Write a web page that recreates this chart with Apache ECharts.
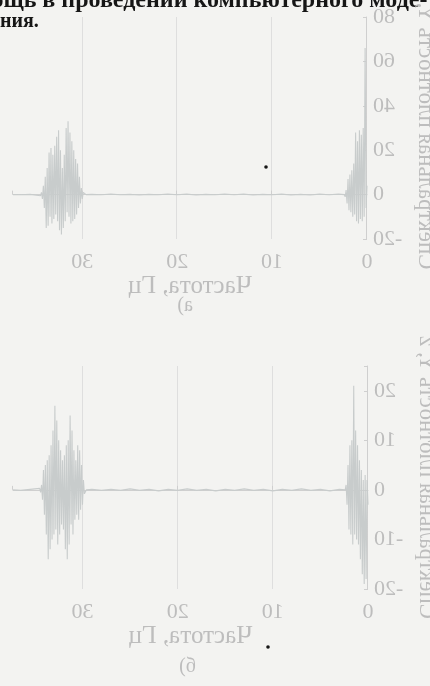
<!DOCTYPE html>
<html><head><meta charset="utf-8">
<script src="https://cdn.jsdelivr.net/npm/echarts@6/dist/echarts.min.js"></script>
<style>html,body{margin:0;padding:0;background:#f3f3f1;overflow:hidden}#c{width:430px;height:686px;transform:scaleX(-1);}</style>
</head><body><div id="c"></div>
<script>
// Frequency grid, Hz
const freqs = [
  0,0.1,0.2,0.3,0.4,0.5,0.6,0.7,0.8,0.9,1,1.1,1.2,1.3,1.4,1.5,1.6,1.7,1.8,1.9,2,2.1,2.2,2.3,2.4,
  3,4,5,6,7,8,9,10,11,12,13,14,15,16,17,18,19,20,21,22,23,24,25,26,27,28,29,
  29.6,29.7,29.8,29.9,30,30.1,30.2,30.3,30.4,30.5,30.6,30.7,30.8,30.9,31,31.1,31.2,31.3,31.4,31.5,31.6,31.7,31.8,31.9,
  32,32.1,32.2,32.3,32.4,32.5,32.6,32.7,32.8,32.9,33,33.1,33.2,33.3,33.4,33.5,33.6,33.7,33.8,33.9,34,34.1,34.2,34.3,34.4,34.5,34.6,
  35.5,36.5,37.3
];
// Panel a) spectral density
const densityA = [
  4,-6,66,-10,30,-12,27,-11,29,-13,24,-12,28,-9,14,-10,11,-8,9,-7,7,-4,2,-1,0,
  0.2,-0.1,0.2,-0.2,0.1,-0.2,0.2,-0.1,0.1,-0.2,0.2,-0.1,0.2,-0.1,0.1,-0.2,0.2,-0.1,0.2,-0.1,0.1,-0.2,0.1,-0.1,0.2,-0.1,0.1,
  0,0.5,-0.5,1,-2,3,-4,8,-6,14,-9,16,-11,20,-12,24,-13,28,-10,33,-8,30,-12,18,
  -15,12,-18,20,-16,29,-12,26,-9,22,-11,18,-13,21,-10,19,-14,12,-15,8,-6,4,-2,1,-0.5,0.3,0,
  0.1,-0.1,0
];
// Panel б) spectral density
const densityB = [
  -3,2,-18,3,-19,2,-17,4,-14,6,-11,9,-10,12,-9,21,-11,10,-9,9,-8,5,-3,1,0,
  0.1,-0.2,0.1,-0.1,0.2,-0.1,0.1,-0.2,0.1,-0.1,0.2,-0.1,0.1,-0.2,0.1,-0.1,0.2,-0.1,0.1,-0.2,0.1,-0.1,0.2,-0.1,0.1,-0.1,0.1,
  0,0.4,-0.8,2,-3,5,-4,8,-6,9,-5,6,-6,8,-9,12,-7,15,-11,10,-14,9,-12,7,
  -8,6,-7,8,-9,10,-11,14,-8,17,-9,12,-10,9,-12,7,-14,6,-9,5,-5,4,-2,1,-0.5,0.3,0,
  0.1,-0.1,0
];
const xName = 'Частота, Гц';
const yName = 'Спектральная плотность Y, z';
const panelLabels = ['а)', 'б)'];
const frontLine1 = 'помощь в проведении компьютерного моде-';
const frontLine2 = 'ния.';

const ghost = '#bdbdbd';
const grid = '#dedede';
const lineC = '#c8cccc';
const serif = '"Liberation Serif", "DejaVu Serif", serif';

function xAxis(gi) {
  return {
    type: 'value', gridIndex: gi, min: 0, max: 37.3, interval: 10,
    axisLine: { show: true, lineStyle: { color: '#cfcfcf', width: 1 } },
    axisTick: { show: true, inside: true, length: 4, lineStyle: { color: '#cfcfcf' } },
    axisLabel: { color: ghost, fontFamily: serif, fontSize: 22, margin: 12,
      formatter: v => (v % 10 === 0 ? String(v) : '') },
    splitLine: { show: true, showMinLine: false, showMaxLine: false, lineStyle: { color: grid, width: 1 } },
    name: xName, nameLocation: 'middle', nameGap: 33,
    nameTextStyle: { color: ghost, fontFamily: serif, fontSize: 25 }
  };
}
function yAxis(gi, min, max, interval) {
  return {
    type: 'value', gridIndex: gi, min: min, max: max, interval: interval, position: 'left',
    axisLine: { show: true, lineStyle: { color: '#cfcfcf', width: 1 } },
    axisTick: { show: true, inside: true, length: 4, lineStyle: { color: '#cfcfcf' } },
    axisLabel: { color: ghost, fontFamily: serif, fontSize: 22, margin: 6,
      formatter: v => (v % interval === 0 ? String(v) : '') },
    splitLine: { show: false },
    name: yName, nameLocation: 'middle', nameGap: 44, nameRotate: 90,
    nameTextStyle: { color: ghost, fontFamily: serif, fontSize: 23 }
  };
}
function series(gi, vals) {
  return {
    type: 'line', xAxisIndex: gi, yAxisIndex: gi, showSymbol: false, sampling: null,
    data: freqs.map((f, i) => [f, vals[i]]),
    lineStyle: { color: lineC, width: 1.1 }, silent: true
  };
}

const chart = echarts.init(document.getElementById('c'), null, { renderer: 'canvas' });
chart.setOption({
  backgroundColor: '#f3f3f1',
  animation: false,
  grid: [
    { left: 63, right: 13, top: 17, height: 222, outerBoundsMode: 'none', containLabel: false },
    { left: 62, right: 13, top: 366, height: 223, outerBoundsMode: 'none', containLabel: false }
  ],
  xAxis: [xAxis(0), xAxis(1)],
  yAxis: [yAxis(0, -20, 80, 20), yAxis(1, -20, 25, 10)],
  series: [series(0, densityA), series(1, densityB)],
  graphic: [
    { type: 'text', left: 237, top: 296, style: { text: panelLabels[0], fill: ghost, font: '20px ' + serif } },
    { type: 'text', left: 234, top: 657, style: { text: panelLabels[1], fill: ghost, font: '20px ' + serif } },
    { type: 'circle', shape: { cx: 164, cy: 167, r: 1.8 }, style: { fill: '#161616' } },
    { type: 'circle', shape: { cx: 162, cy: 647, r: 1.8 }, style: { fill: '#161616' } },
    { type: 'text', x: 430 + 50, y: -11, scaleX: -1, style: { text: frontLine1, fill: '#161616', font: 'bold 24px ' + serif } },
    { type: 'text', x: 430, y: 12, scaleX: -1, style: { text: frontLine2, fill: '#161616', font: 'bold 20px ' + serif } }
  ]
});
</script>
</body></html>
